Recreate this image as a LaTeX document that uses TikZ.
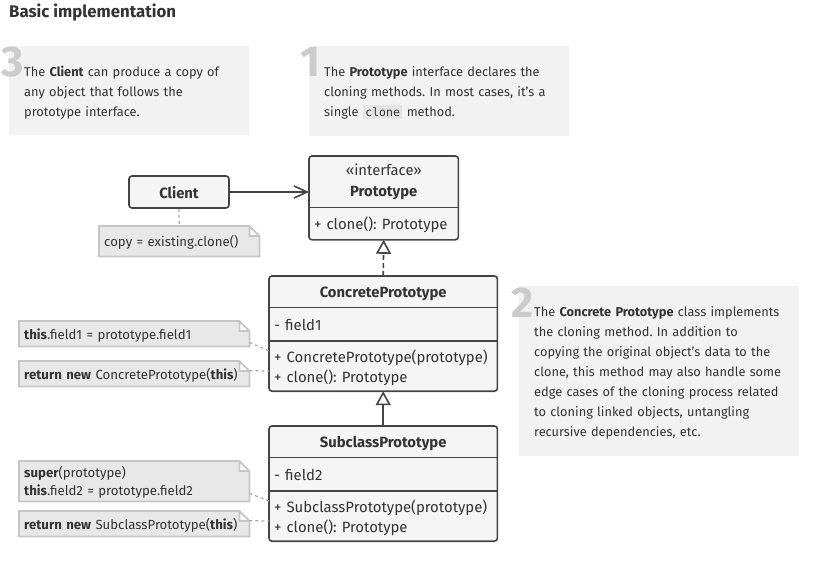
\documentclass[tikz,border=0pt]{standalone}
\usepackage{fontspec}
\setmainfont{Fira Sans}
\setmonofont{DejaVu Sans Mono}
\frenchspacing
\usetikzlibrary{arrows.meta,positioning,backgrounds}
\definecolor{ink}{HTML}{333333}
\definecolor{umlline}{HTML}{444444}
\definecolor{umlfill}{HTML}{F5F5F5}
\definecolor{descfill}{HTML}{F2F2F2}
\definecolor{notefill}{HTML}{E8E8E8}
\definecolor{noteline}{HTML}{C6C6C6}
\definecolor{digitgray}{HTML}{CCCCCC}
\definecolor{codefill}{HTML}{E4E4E4}
\newcommand\codeword[1]{\smash{{\setlength\fboxsep{2.5pt}\colorbox{codefill}{\ttfamily\fontsize{11.5}{20}\selectfont #1}}}}
\tikzset{
  struts/.style={execute at begin node={\rule{0pt}{1.05em}},execute at end node={\rule[-0.15em]{0pt}{0.15em}}},
  desc/.style={fill=descfill,anchor=north west,inner xsep=15pt,inner ysep=0pt,align=left,text=ink,font=\fontsize{12.8}{20}\selectfont,struts},
  digit/.style={anchor=base west,inner sep=0pt,text=digitgray,font=\fontsize{43}{43}\selectfont\bfseries},
  umlcell/.style={inner xsep=5pt,inner ysep=0pt,text=ink,font=\fontsize{14.9}{20}\selectfont,struts},
  umlhead/.style={umlcell,align=center,font=\fontsize{14.8}{21}\selectfont\bfseries},
  umlbody/.style={umlcell,align=left},
  umlbox/.style={draw=umlline,fill=umlfill,line width=1.6pt,rounded corners=3pt},
  umldiv/.style={draw=umlline,line width=1.6pt},
  note/.style={anchor=north west,inner xsep=5pt,inner ysep=0pt,align=left,text=ink,font=\fontsize{13.2}{18}\selectfont,struts},
  noteedge/.style={draw=noteline,fill=notefill,line width=1.8pt},
  noteconn/.style={draw=noteline!85!black,line width=1.2pt,dash pattern=on 3pt off 3pt},
  assoc/.style={draw=umlline,line width=1.6pt,-{Straight Barb[length=13pt,width=12pt]}},
  realize/.style={draw=umlline,line width=1.6pt,dash pattern=on 5pt off 3pt,-{Triangle[length=14pt,width=15pt,fill=white]}},
  inherit/.style={draw=umlline,line width=1.6pt,-{Triangle[length=14pt,width=15pt,fill=white]}}
}
\begin{document}
\begin{tikzpicture}[x=1pt,y=-1pt]
\useasboundingbox (0,0) rectangle (826,561);
\node[anchor=west,inner sep=0pt,text=ink,font=\fontsize{16.8}{16.8}\selectfont\bfseries] (title) at (9,13) {Basic implementation};

\node[desc,minimum width=240,minimum height=89,text width=210] (d3) at (9,46)
  {The \textbf{Client} can produce a copy of\\any object that follows the\\prototype interface.};
\node[digit] (n3) at ([xshift=-8pt,yshift=-31pt]d3.north west) {3};
\node[desc,minimum width=260,minimum height=90,text width=230] (d1) at (309,46)
  {The \textbf{Prototype} interface declares the\\cloning methods. In most cases, it’s a\\single \codeword{clone} method.};
\node[digit] (n1) at ([xshift=-9pt,yshift=-31pt]d1.north west) {1};
\node[desc,minimum width=280,minimum height=170,text width=250] (d2) at (519,286)
  {The \textbf{Concrete Prototype} class implements\\the cloning method. In addition to\\copying the original object’s data to the\\clone, this method may also handle some\\edge cases of the cloning process related\\to cloning linked objects, untangling\\recursive dependencies, etc.};
\node[digit] (n2) at ([xshift=-8pt,yshift=-31pt]d2.north west) {2};

\node[umlhead,draw=umlline,fill=umlfill,line width=1.6pt,rounded corners=3pt,minimum width=100,minimum height=32] (client) at (179,192) {Client};

\node[umlhead,anchor=north west,minimum width=149,minimum height=51] (ptitle) at (309,156) {\mdseries«interface»\\Prototype};
\node[umlbody,below=0pt of ptitle,minimum width=149,minimum height=32,text width=139] (pmeth) {+ clone(): Prototype};

\node[umlhead,anchor=north west,minimum width=228,minimum height=31] (cptitle) at (269,276) {ConcretePrototype};
\node[umlbody,below=0pt of cptitle,minimum width=228,minimum height=33,text width=218] (cpfield) {- field1};
\node[umlbody,below=0pt of cpfield,minimum width=228,minimum height=50,text width=218] (cpmeth) {+ ConcretePrototype(prototype)\\+ clone(): Prototype};

\node[umlhead,anchor=north west,minimum width=228,minimum height=31] (sptitle) at (269,426) {SubclassPrototype};
\node[umlbody,below=0pt of sptitle,minimum width=228,minimum height=33,text width=218] (spfield) {- field2};
\node[umlbody,below=0pt of spfield,minimum width=228,minimum height=50,text width=218] (spmeth) {+ SubclassPrototype(prototype)\\+ clone(): Prototype};

\node[note,minimum width=160,minimum height=30,text width=150] (ncopy) at (99,226) {copy = existing.clone()};
\node[note,minimum width=230,minimum height=25,text width=220] (nfa) at (19,321) {\textbf{this}.field1 = prototype.field1};
\node[note,minimum width=230,minimum height=25,text width=220] (nfb) at (19,361) {\textbf{return new} ConcretePrototype(\textbf{this})};
\node[note,minimum width=230,minimum height=40,text width=220] (nfc) at (19,461) {\textbf{super}(prototype)\\\textbf{this}.field2 = prototype.field2};
\node[note,minimum width=230,minimum height=25,text width=220] (nfd) at (19,511) {\textbf{return new} SubclassPrototype(\textbf{this})};

\begin{scope}[on background layer]
\foreach \c/\m in {ptitle/pmeth,cptitle/cpmeth,sptitle/spmeth}
  \draw[umlbox] (\c.north west) rectangle (\m.south east);
\foreach \n in {ncopy,nfa,nfb,nfc,nfd}
  \draw[noteedge] (\n.north west) -- ([xshift=-10pt]\n.north east) -- ([yshift=-10pt]\n.north east) -- (\n.south east) -- (\n.south west) -- cycle
    ([xshift=-10pt]\n.north east) |- ([yshift=-10pt]\n.north east);
\end{scope}
\draw[umldiv] (ptitle.south west) -- (ptitle.south east);
\draw[umldiv] (cptitle.south west) -- (cptitle.south east);
\draw[umldiv] (cpfield.south west) -- (cpfield.south east);
\draw[umldiv] (sptitle.south west) -- (sptitle.south east);
\draw[umldiv] (spfield.south west) -- (spfield.south east);

\draw[assoc] (client.east) -- (client.east -| ptitle.west);
\draw[realize] (cptitle.north) -- (pmeth.south);
\draw[inherit] (sptitle.north) -- (cpmeth.south);

\draw[noteconn] (client.south) -- (ncopy.north);
\draw[noteconn] ([yshift=4pt]nfa.south east) -- ([yshift=15pt]cpmeth.west);
\draw[noteconn] ([yshift=3pt]nfb.east) -- ([yshift=-5pt]cpmeth.west);
\draw[noteconn] ([yshift=8pt]nfc.south east) -- ([yshift=15pt]spmeth.west);
\draw[noteconn] ([yshift=3pt]nfd.east) -- ([yshift=-5pt]spmeth.west);
\end{tikzpicture}
\end{document}
